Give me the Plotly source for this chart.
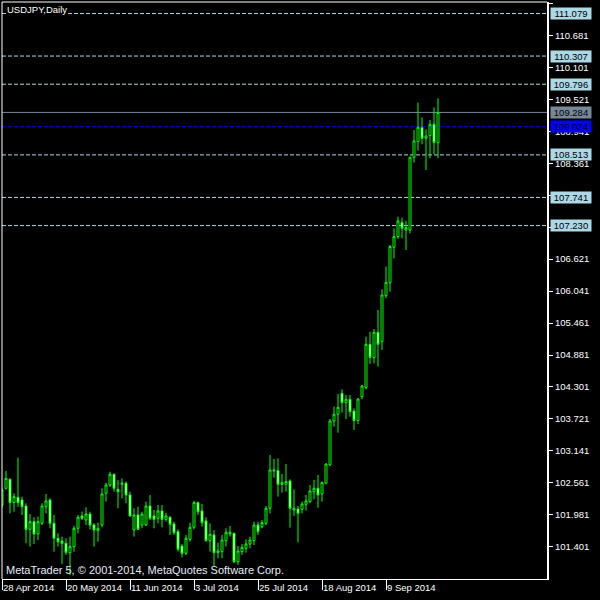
import pandas as pd
import plotly.graph_objects as go

# ---- data -------------------------------------------------------------
dates = [d.strftime("%Y-%m-%d") for d in pd.bdate_range("2014-04-28", "2014-09-26")]

opens = [102.159, 102.462, 102.625, 102.202, 102.298, 102.250, 102.141, 101.718, 101.857, 101.633,
         101.827, 102.129, 102.250, 101.827, 101.554, 101.506, 101.464, 101.294, 101.403, 101.736,
         101.960, 101.887, 101.996, 101.796, 101.693, 101.796, 102.371, 102.522, 102.716, 102.444,
         102.534, 102.553, 102.341, 101.706, 101.978, 101.796, 101.796, 102.141, 101.960, 101.917,
         102.050, 101.899, 101.936, 101.814, 101.675, 101.415, 101.282, 101.536, 101.754, 102.202,
         102.050, 101.869, 101.512, 101.615, 101.294, 101.312, 101.512, 101.633, 101.645, 101.131,
         101.312, 101.373, 101.452, 101.512, 101.796, 101.766, 101.827, 102.099, 102.777, 102.783,
         102.534, 102.534, 102.595, 102.069, 102.087, 102.081, 102.171, 102.220, 102.401, 102.462,
         102.359, 102.553, 102.885, 103.684, 103.805, 104.186, 104.016, 104.077, 103.865, 103.690,
         104.125, 104.289, 105.075, 104.833, 105.293, 105.123, 105.958, 106.194, 106.836, 107.029,
         107.283, 107.150, 107.150, 108.469, 108.753, 109.007, 108.814, 108.862, 109.068, 108.735]
highs = [102.462, 102.776, 102.643, 102.371, 103.018, 102.311, 102.190, 101.996, 101.936, 101.948,
         102.190, 102.359, 102.280, 101.978, 101.645, 101.585, 101.554, 101.585, 101.778, 101.978,
         102.038, 102.117, 102.038, 101.827, 101.839, 102.462, 102.565, 102.764, 102.734, 102.613,
         102.643, 102.583, 102.401, 102.099, 102.129, 102.038, 102.220, 102.341, 102.069, 102.159,
         102.159, 102.020, 101.960, 101.857, 101.718, 101.452, 101.615, 101.839, 102.238, 102.220,
         102.178, 101.936, 101.827, 101.706, 101.476, 101.615, 101.736, 101.778, 101.657, 101.415,
         101.452, 101.536, 101.585, 101.857, 101.857, 101.887, 102.141, 103.067, 102.994, 103.006,
         102.722, 102.903, 102.625, 102.444, 102.141, 102.220, 102.341, 102.522, 102.613, 102.704,
         102.583, 102.916, 103.720, 103.944, 104.174, 104.258, 104.155, 104.155, 103.913, 104.095,
         104.337, 105.214, 105.305, 105.353, 105.698, 106.073, 106.485, 106.878, 107.180, 107.392,
         107.374, 107.320, 108.481, 108.965, 109.461, 109.195, 108.977, 109.147, 109.376, 109.540]
lows = [102.111, 102.440, 102.008, 102.038, 102.129, 101.978, 101.464, 101.403, 101.452, 101.524,
        101.796, 102.008, 101.736, 101.312, 101.403, 101.089, 101.252, 100.889, 101.312, 101.645,
        101.887, 101.796, 101.718, 101.403, 101.494, 101.754, 102.220, 102.490, 102.401, 102.099,
        102.280, 102.190, 101.948, 101.585, 101.706, 101.736, 101.778, 101.887, 101.736, 101.827,
        101.754, 101.857, 101.615, 101.615, 101.312, 101.209, 101.252, 101.494, 101.718, 101.978,
        101.766, 101.494, 101.312, 101.040, 101.191, 101.191, 101.403, 101.585, 101.101, 101.070,
        101.252, 101.294, 101.373, 101.433, 101.615, 101.736, 101.796, 102.008, 102.655, 102.311,
        102.383, 102.401, 101.748, 101.960, 101.476, 102.008, 102.056, 102.190, 102.262, 102.111,
        102.220, 102.534, 102.870, 103.581, 103.472, 103.835, 103.720, 103.762, 103.520, 103.629,
        104.077, 104.258, 104.718, 104.730, 104.670, 104.972, 105.910, 106.031, 106.636, 106.987,
        106.999, 106.787, 107.090, 108.372, 108.590, 108.705, 108.239, 108.451, 108.529, 108.451]
closes = [102.431, 102.643, 102.202, 102.311, 102.202, 102.129, 101.718, 101.857, 101.633, 101.857,
          102.141, 102.232, 101.827, 101.554, 101.494, 101.464, 101.300, 101.403, 101.736, 101.936,
          101.917, 101.996, 101.796, 101.706, 101.736, 102.359, 102.522, 102.716, 102.462, 102.401,
          102.553, 102.341, 101.960, 101.978, 101.718, 101.996, 102.141, 101.917, 101.899, 102.050,
          101.899, 101.960, 101.808, 101.657, 101.355, 101.282, 101.554, 101.754, 102.202, 102.038,
          101.839, 101.512, 101.627, 101.294, 101.324, 101.524, 101.663, 101.663, 101.131, 101.324,
          101.391, 101.452, 101.524, 101.796, 101.675, 101.839, 102.099, 102.795, 102.795, 102.534,
          102.565, 102.583, 102.099, 102.099, 102.008, 102.178, 102.232, 102.413, 102.462, 102.341,
          102.565, 102.903, 103.684, 103.805, 103.932, 104.016, 104.077, 103.853, 103.690, 104.083,
          104.319, 105.075, 104.839, 105.293, 105.075, 105.970, 106.200, 106.848, 107.029, 107.314,
          107.180, 107.193, 108.469, 108.765, 109.013, 108.814, 108.856, 109.068, 108.735, 109.284]

x_tick_labels = ["28 Apr 2014", "20 May 2014", "11 Jun 2014", "3 Jul 2014",
                 "25 Jul 2014", "18 Aug 2014", "9 Sep 2014"]
x_tick_dates = ["2014-04-28", "2014-05-20", "2014-06-11", "2014-07-03",
                "2014-07-25", "2014-08-18", "2014-09-09"]

y_ticks = [111.261, 110.681, 110.101, 109.521, 108.941, 108.361, 107.781, 107.201, 106.621,
           106.041, 105.461, 104.881, 104.301, 103.721, 103.141, 102.561, 101.981, 101.401]
# labels fully covered by price boxes in the original are left blank
y_tick_labels = ["111.261", "110.681", "110.101", "109.521", "108.941", "108.361", "", "", "106.621",
                 "106.041", "105.461", "104.881", "104.301", "103.721", "103.141", "102.561",
                 "101.981", "101.401"]

dashed_levels = [111.079, 110.307, 109.796, 108.513, 107.741, 107.230]
last_price = 109.284
blue_level = 109.024

title_text = "USDJPY,Daily"
footer_text = "MetaTrader 5, © 2001-2014, MetaQuotes Software Corp."

# ---- styles -----------------------------------------------------------
GREEN = "#00ff00"
LIGHTBLUE = "#add8e6"
SLATE = "#778899"
BLUE = "#0000ff"
FONT = "Liberation Sans"

xs = list(range(len(dates)))
tickvals = [dates.index(d) for d in x_tick_dates]

fig = go.Figure()
fig.add_trace(go.Candlestick(
    x=xs, open=opens, high=highs, low=lows, close=closes,
    increasing=dict(line=dict(color=GREEN, width=1), fillcolor="#000000"),
    decreasing=dict(line=dict(color=GREEN, width=1), fillcolor="#ffffff"),
    whiskerwidth=0, showlegend=False, hoverinfo="skip",
))

shapes = []
for lv in dashed_levels:
    shapes.append(dict(type="line", xref="paper", x0=0, x1=1, yref="y", y0=lv, y1=lv,
                       line=dict(color=LIGHTBLUE, width=1, dash="4px,2px"), layer="below"))
shapes.append(dict(type="line", xref="paper", x0=0, x1=1, yref="y", y0=last_price, y1=last_price,
                   line=dict(color=SLATE, width=1), layer="below"))
shapes.append(dict(type="line", xref="paper", x0=0, x1=1, yref="y", y0=blue_level, y1=blue_level,
                   line=dict(color=BLUE, width=1, dash="4px,2px"), layer="below"))
# frame: top and left borders
shapes.append(dict(type="line", xref="paper", yref="paper", x0=0, x1=1, y0=1, y1=1,
                   line=dict(color="#ffffff", width=1)))
shapes.append(dict(type="line", xref="paper", yref="paper", x0=0, x1=0, y0=0, y1=1,
                   line=dict(color="#ffffff", width=1)))

PLOT_W = 545.0
box_x = (550 - 2) / PLOT_W

annotations = []
for lv in dashed_levels:
    annotations.append(dict(xref="paper", x=box_x, xanchor="left", yref="y", y=lv, yanchor="middle",
                            text=f"{lv:.3f}", showarrow=False, bgcolor=LIGHTBLUE, width=38, height=9,
                            borderpad=1, font=dict(family=FONT, size=9.5, color="#000000")))
annotations.append(dict(xref="paper", x=box_x, xanchor="left", yref="y", y=last_price, yanchor="middle",
                        text=f"{last_price:.3f}", showarrow=False, bgcolor=SLATE, width=38, height=9,
                        borderpad=1, font=dict(family=FONT, size=9.5, color="#000000")))
annotations.append(dict(xref="paper", x=box_x, xanchor="left", yref="y", y=blue_level, yanchor="middle",
                        text=f"{blue_level:.3f}", showarrow=False, bgcolor=BLUE, width=38, height=9,
                        borderpad=1, font=dict(family=FONT, size=9.5, color="#000000")))
annotations.append(dict(xref="paper", x=4 / PLOT_W, xanchor="left", yref="paper", y=1 - 8 / 577,
                        yanchor="middle", text=title_text, showarrow=False, bgcolor="#000000",
                        borderpad=0, font=dict(family=FONT, size=9.5, color="#ffffff")))
annotations.append(dict(xref="paper", x=2 / PLOT_W, xanchor="left", yref="paper", y=9 / 577,
                        yanchor="middle", text=footer_text, showarrow=False,
                        font=dict(family=FONT, size=11, color="#e6ecf5")))

fig.update_layout(
    width=600, height=600,
    margin=dict(l=2, r=53, t=2, b=21, pad=0),
    paper_bgcolor="#000000", plot_bgcolor="#000000",
    shapes=shapes, annotations=annotations,
    showlegend=False, hovermode=False,
    xaxis=dict(range=[0, 136.25], rangeslider=dict(visible=False), showgrid=False, zeroline=False,
               showline=True, linecolor="#ffffff", linewidth=1,
               tickmode="array", tickvals=tickvals, ticktext=x_tick_labels,
               ticks="outside", ticklen=10, tickcolor="#ffffff", tickwidth=1,
               ticklabelposition="outside right",
               tickfont=dict(family=FONT, size=9.5, color="#ffffff")),
    yaxis=dict(range=[100.816, 111.288], side="right", showgrid=False, zeroline=False,
               showline=True, linecolor="#ffffff", linewidth=2,
               tickmode="array", tickvals=y_ticks, ticktext=y_tick_labels,
               ticks="outside", ticklen=4, tickcolor="#ffffff", tickwidth=1,
               tickfont=dict(family=FONT, size=9.5, color="#ffffff")),
)

fig.write_html("out.html", config={"displayModeBar": False},
               post_script="document.body.style.margin='0';document.body.style.background='#000';")
